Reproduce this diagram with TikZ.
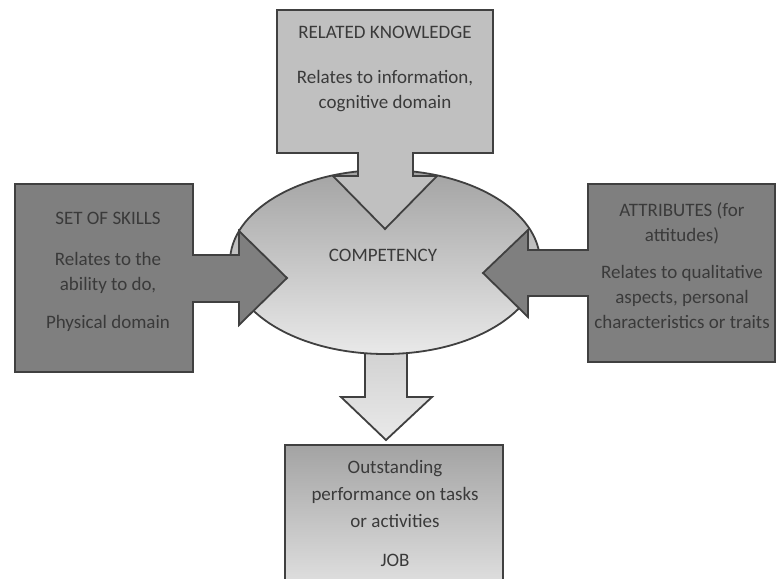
\documentclass[tikz,border=0pt]{standalone}
\usepackage{fontspec}
\setmainfont{Carlito}
\usetikzlibrary{shapes.geometric}
\definecolor{edge}{HTML}{404040}
\definecolor{txt}{HTML}{3A3A3A}
\definecolor{lightbox}{HTML}{C0C0C0}
\definecolor{darkbox}{HTML}{7F7F7F}
\tikzset{
  shapeline/.style={draw=edge, line width=1.8pt, line join=miter},
  lbl/.style={text=txt, font=\fontsize{19}{25}\selectfont, align=center, inner sep=0pt},
}
\begin{document}
\begin{tikzpicture}[x=1pt,y=-1pt]
\useasboundingbox (0,0) rectangle (776,578);
\fill[white] (0,0) rectangle (776,578);
\clip (0,0) rectangle (776,578);
% bottom arrow (under the ellipse)
\draw[shapeline, top color=lightbox!80, bottom color=lightbox!35]
  (365,330) -- (407,330) -- (407,397) -- (432,397) -- (386,440) -- (341,397) -- (365,397) -- cycle;
% ellipse
\node[ellipse, shapeline, top color=lightbox!85!black, bottom color=lightbox!35,
      minimum width=310pt, minimum height=184pt, inner sep=0pt] (comp) at (385,262) {};
% top box with arrow
\draw[shapeline, fill=lightbox]
  (277,10) -- (493,10) -- (493,153) -- (413,153) -- (413,176) -- (437,176) -- (385,229)
  -- (333,176) -- (358,176) -- (358,153) -- (277,153) -- cycle;
% left box with arrow
\draw[shapeline, fill=darkbox]
  (15,184) -- (193,184) -- (193,255) -- (239,255) -- (239,231) -- (287,278) -- (239,325)
  -- (239,302) -- (193,302) -- (193,372) -- (15,372) -- cycle;
% right box with arrow
\draw[shapeline, fill=darkbox]
  (588,184) -- (775,184) -- (775,362) -- (588,362) -- (588,296) -- (528,296) -- (528,317)
  -- (483,273) -- (528,230) -- (528,250) -- (588,250) -- cycle;
% bottom box
\draw[shapeline, top color=lightbox!85!black, bottom color=lightbox!40]
  (285,445) rectangle (503,600);
% texts
\node[lbl] (kt) at (385,32) {RELATED KNOWLEDGE};
\node[lbl] (kd) at (385,91) {Relates to information,\\cognitive domain};
\node[lbl] (st) at (108,218) {SET OF SKILLS};
\node[lbl] (sd) at (108,273) {Relates to the\\ability to do,};
\node[lbl] (sp) at (108,323) {Physical domain};
\node[lbl] (at) at (682,223) {ATTRIBUTES (for\\attitudes)};
\node[lbl] (ad) at (682,297) {Relates to qualitative\\aspects, personal\\characteristics or traits};
\node[lbl] (ct) at (383,255) {COMPETENCY};
\node[lbl, font=\fontsize{19}{27}\selectfont] (jd) at (395,494) {Outstanding\\performance on tasks\\or activities};
\node[lbl] (jt) at (395,560) {JOB};
\end{tikzpicture}
\end{document}
